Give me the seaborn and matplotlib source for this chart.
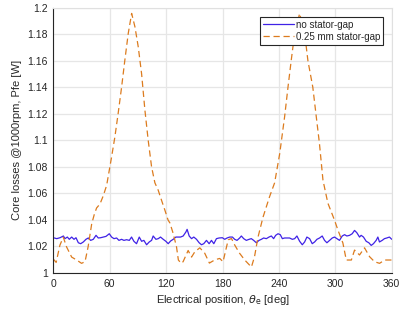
import numpy as np
import pandas as pd
import matplotlib
matplotlib.use('Agg')
import matplotlib.pyplot as plt
import seaborn as sns
from matplotlib.ticker import FuncFormatter

sns.set_style('whitegrid')
plt.rcParams['font.family'] = ['Liberation Sans', 'DejaVu Sans']

# --- data ---
nogap_x = [0, 3.6, 7.1, 10.7, 12.4, 14.9, 17, 19.5, 22, 24.1, 26.6, 29.1, 31.9, 34.7,
           37.2, 39.7, 42.5, 45.4, 47.8, 50.3, 53.1, 56, 59.5, 62, 64.5, 67.3, 69.8,
           72.6, 75.1, 77.9, 80.8, 83.2, 85.7, 88.5, 91.4, 93.9, 96.3, 99.2, 102,
           104.5, 106.2, 109.1, 111.6, 114, 116.9, 119.7, 122.2, 124.7, 127.5, 130.3,
           132.8, 135.3, 138.1, 141, 142.3, 144.5, 147, 149.4, 152.3, 155.1, 157.6,
           160, 162.9, 165.7, 168.2, 170.7, 173.5, 176.3,
           179.8, 182.3, 184.8, 187.6, 190.5, 192.9, 195.4, 198.2, 200, 202.5, 205.3,
           208.2, 210.6, 213.1, 215.9, 218.8, 221.3, 223.7, 226.6, 229.4, 231.9, 234.3,
           236.5, 239, 241.4, 243.6, 246, 248.5, 251.3, 254.2, 256.7, 259.1, 262,
           264.8, 267.3, 269.7, 272.6, 275.4, 277.9, 280.4, 283.2, 286, 288.5, 291,
           293.8, 296.7, 299.1, 301.6, 304.4, 307.3, 309.8, 312.2, 315.1, 317.9, 320.4,
           322.8, 325.7, 327.4, 329.9, 332.8, 335.6, 338.1, 340.5, 343.4, 345.2, 346.9,
           349.8, 352.2, 354.7, 357.5, 360]
nogap_y = [1.0266, 1.0259, 1.0266, 1.0279, 1.0259, 1.0271, 1.0254, 1.0271, 1.0254, 1.0266,
           1.0228, 1.0221, 1.0234, 1.0254, 1.0264, 1.0246, 1.0254, 1.0284, 1.0264, 1.0266,
           1.0271, 1.0276, 1.0296, 1.0271, 1.0259, 1.0264, 1.0246, 1.0254, 1.0246, 1.0251,
           1.0246, 1.0271, 1.0239, 1.0221, 1.0271, 1.0239, 1.0246, 1.0213, 1.0234, 1.0246,
           1.0279, 1.0254, 1.0259, 1.0271, 1.0254, 1.0239, 1.0221, 1.0241, 1.0254, 1.0271,
           1.0271, 1.0271, 1.0279, 1.0309, 1.0329, 1.0279, 1.0259, 1.0271, 1.0254, 1.0228,
           1.0213, 1.0221, 1.0246, 1.0221, 1.0246, 1.0221, 1.0259, 1.0264,
           1.0266, 1.0254, 1.0264, 1.0271, 1.0271, 1.0254, 1.0246, 1.0264, 1.0279, 1.0259,
           1.0246, 1.0254, 1.0259, 1.0246, 1.0228, 1.0246, 1.0254, 1.0264, 1.0259, 1.0271,
           1.0279, 1.0259, 1.0284, 1.0296, 1.0289, 1.0259, 1.0264, 1.0264, 1.0264, 1.0254,
           1.0259, 1.0279, 1.0239, 1.0213, 1.0234, 1.0271, 1.0259, 1.0221, 1.0234, 1.0254,
           1.0264, 1.0279, 1.0246, 1.0228, 1.0246, 1.0264, 1.0271, 1.0259, 1.0246, 1.0279,
           1.0289, 1.0279, 1.0284, 1.0296, 1.0321, 1.0304, 1.0271, 1.0284, 1.0271, 1.0239,
           1.0228, 1.0208, 1.0221, 1.0246, 1.0271, 1.0234, 1.0246, 1.0259, 1.0264, 1.0271,
           1.0254]

gap_x = [0, 3, 7, 10.6, 14, 19.5, 24.8, 30, 33.7, 37, 40.8, 43.5, 46, 49.6, 53, 56.7,
         62, 65.5, 69, 72.6, 76, 79.7, 83.3, 86.8, 90.3, 93.9, 97.4, 100.9, 104.5, 108,
         111.5, 115, 118.6, 122, 124, 127.4, 131, 133, 136, 138, 143.4, 147, 150.5,
         155.8, 161, 166, 172, 177, 180.5, 186, 189.5, 193, 198, 203.6, 210.7, 214,
         217.7, 223, 230, 235.4, 240.8, 246, 249.6, 253, 256.7, 262, 267.3, 270.8,
         276, 279.7, 283, 286.8, 292, 299, 302.7, 308, 311.6, 317, 320.4, 325.7, 331,
         336.4, 341.7, 347, 352.4, 360]
gap_y = [1.0105, 1.008, 1.021, 1.027, 1.0198, 1.012, 1.0098, 1.0073, 1.0085, 1.0198,
         1.037, 1.044, 1.049, 1.052, 1.058, 1.066, 1.0876, 1.1027, 1.1205, 1.140, 1.160,
         1.1806, 1.1956, 1.1855, 1.1705, 1.150, 1.1228, 1.100, 1.080, 1.068, 1.0625,
         1.055, 1.0475, 1.040, 1.0377, 1.030, 1.0198, 1.0098, 1.0073, 1.0085, 1.017,
         1.012, 1.016, 1.019, 1.015, 1.0075, 1.010, 1.011, 1.0085, 1.025, 1.026, 1.021,
         1.015, 1.0098, 1.0045, 1.0123, 1.027, 1.042, 1.0575, 1.068, 1.090, 1.1177,
         1.140, 1.160, 1.1806, 1.1956, 1.1806, 1.160, 1.140, 1.1177, 1.098, 1.070,
         1.0527, 1.040, 1.0324, 1.0226, 1.0098, 1.0098, 1.0173, 1.0136, 1.019, 1.0123,
         1.0085, 1.0073, 1.0098, 1.0098]

labels = ['no stator-gap', '0.25 mm stator-gap']
x_ticks = [0, 60, 120, 180, 240, 300, 360]
y_ticks = [1, 1.02, 1.04, 1.06, 1.08, 1.1, 1.12, 1.14, 1.16, 1.18, 1.2]

df_nogap = pd.DataFrame({'theta': nogap_x, 'P': nogap_y})
df_gap = pd.DataFrame({'theta': gap_x, 'P': gap_y})

fig = plt.figure(figsize=(4.01, 3.16), dpi=100)
ax = fig.add_axes([0.133, 0.136, 0.844, 0.840])

sns.lineplot(data=df_nogap, x='theta', y='P', ax=ax, color='#3f22e6',
             linewidth=0.9, label=labels[0], estimator=None, sort=False)
sns.lineplot(data=df_gap, x='theta', y='P', ax=ax, color='#dc7b1e',
             linewidth=0.9, label=labels[1], estimator=None, sort=False,
             dashes=False)
ax.lines[1].set_dashes([5, 3])

ax.set_xlim(0, 360)
ax.set_ylim(1, 1.2)
ax.set_xticks(x_ticks)
ax.set_yticks(y_ticks)
ax.yaxis.set_major_formatter(FuncFormatter(lambda v, p: '%g' % round(v, 2)))

ax.grid(True, color='#e6e6e6', linewidth=0.9)
for side in ['top', 'right']:
    ax.spines[side].set_color('#e0e0e0')
    ax.spines[side].set_linewidth(0.8)
for side in ['left', 'bottom']:
    ax.spines[side].set_color('#262626')
    ax.spines[side].set_linewidth(0.8)
ax.tick_params(direction='in', length=3, width=0.7, colors='#262626',
               labelsize=7.5, pad=4)

ax.set_xlabel(r'Electrical position, $\theta_\mathrm{e}$ [deg]', fontsize=8,
              color='#262626', labelpad=3)
ax.set_ylabel('Core losses @1000rpm, Pfe [W]', fontsize=8, color='#262626',
              labelpad=4)

leg = ax.legend(loc='upper right', bbox_to_anchor=(0.975, 0.965), fontsize=7,
                frameon=True, fancybox=False, framealpha=1, handlelength=3.2,
                borderpad=0.3, labelspacing=0.2, handletextpad=0.2,
                borderaxespad=0)
leg.get_frame().set_edgecolor('#262626')
leg.get_frame().set_linewidth(0.8)

fig.savefig('out.png', dpi=100)
